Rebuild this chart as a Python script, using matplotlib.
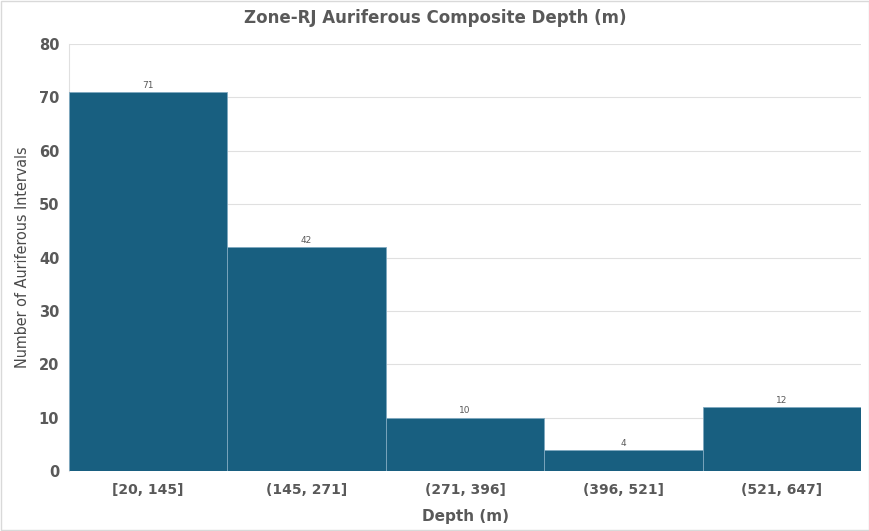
import matplotlib.pyplot as plt
from matplotlib import font_manager

bins = ["[20, 145]", "(145, 271]", "(271, 396]", "(396, 521]", "(521, 647]"]
counts = [71, 42, 10, 4, 12]

narrow = "Liberation Sans Narrow"
names = {f.name for f in font_manager.fontManager.ttflist}
stretch = "normal"
if narrow not in names:
    narrow = "DejaVu Sans"
    stretch = "condensed"

fig = plt.figure(figsize=(8.7, 5.31), dpi=100)
ax = fig.add_axes([0.0793, 0.113, 0.9104, 0.804])
fig.patches.append(plt.Rectangle((0.001, 0.001), 0.998, 0.998, transform=fig.transFigure,
                                 fill=False, edgecolor="#d9d9d9", linewidth=1))

x = list(range(len(bins)))
bars = ax.bar(x, counts, width=1.0, color="#185f80", edgecolor="#7fa9c0", linewidth=0.6, zorder=3)
for b, v in zip(bars, counts):
    ax.text(b.get_x() + b.get_width() / 2, v + 0.4, str(v), ha="center", va="bottom",
            fontsize=6.5, color="#595959", zorder=4)

ax.set_xlim(-0.5, len(bins) - 0.5)
ax.set_ylim(0, 80)
ax.set_yticks(range(0, 81, 10))
ax.set_xticks(x)
ax.set_xticklabels(bins)
ax.tick_params(axis="y", length=0, colors="#595959", labelsize=10.5, pad=7)
ax.tick_params(axis="x", length=0, colors="#595959", labelsize=10, pad=9)
for lab in ax.get_xticklabels() + ax.get_yticklabels():
    lab.set_fontweight("bold")
    lab.set_fontstretch("normal")
ax.grid(axis="y", color="#e0e0e0", linewidth=0.8, zorder=0)
for s in ["top", "right", "bottom"]:
    ax.spines[s].set_visible(False)
ax.spines["left"].set_color("#e0e0e0")

fig.text(0.5, 0.966, "Zone-RJ Auriferous Composite Depth (m)", fontsize=12, fontweight="bold",
         fontstretch="normal", color="#595959", ha="center", va="center")
ax.set_xlabel("Depth (m)", fontsize=11, fontweight="bold", fontstretch="normal",
              color="#595959", labelpad=8)
ax.set_ylabel("Number of Auriferous Intervals", fontsize=11.5, color="#4a4a4a",
              family=narrow, fontstretch=stretch, fontweight="medium", labelpad=6)

fig.savefig("out.png", dpi=100)
